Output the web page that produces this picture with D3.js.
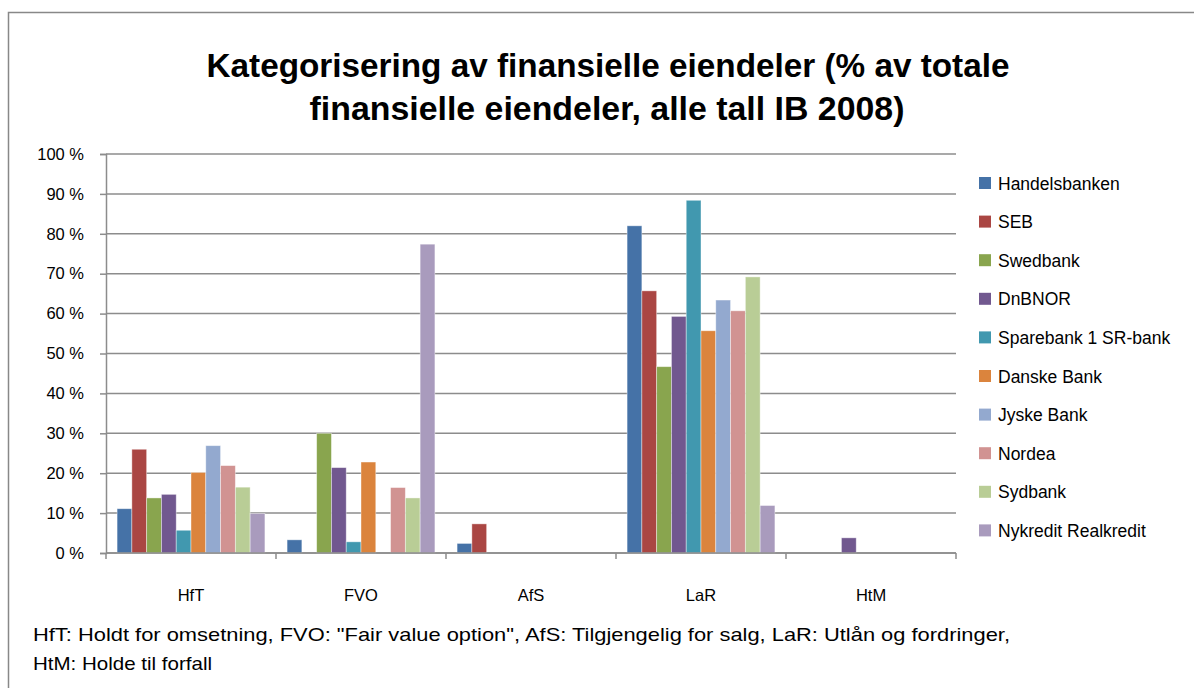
<!DOCTYPE html>
<html>
<head>
<meta charset="utf-8">
<script src="https://cdn.jsdelivr.net/npm/d3@7"></script>
<style>
  body { margin: 0; background: #fff; }
  text { font-family: "Liberation Sans", Arial, sans-serif; fill: #000; }
</style>
</head>
<body>
<div id="chart"></div>
<script>
const categories = ["HfT", "FVO", "AfS", "LaR", "HtM"];
const banks = [
  "Handelsbanken", "SEB", "Swedbank", "DnBNOR", "Sparebank 1 SR-bank",
  "Danske Bank", "Jyske Bank", "Nordea", "Sydbank", "Nykredit Realkredit"
];
// percent values per bank, in order HfT, FVO, AfS, LaR, HtM
const handelsbanken = [11.1, 3.3, 2.4, 82.0, 0];
const seb = [26.0, 0, 7.3, 65.7, 0];
const swedbank = [13.8, 30.0, 0, 46.7, 0];
const dnbnor = [14.7, 21.4, 0, 59.3, 3.8];
const sparebank = [5.7, 2.8, 0, 88.4, 0];
const danske = [20.2, 22.8, 0, 55.7, 0];
const jyske = [26.9, 0, 0, 63.4, 0];
const nordea = [21.9, 16.4, 0, 60.7, 0];
const sydbank = [16.5, 13.8, 0, 69.2, 0];
const nykredit = [9.9, 77.4, 0, 11.9, 0];
const yTicks = [0, 10, 20, 30, 40, 50, 60, 70, 80, 90, 100];

const seriesValues = [handelsbanken, seb, swedbank, dnbnor, sparebank,
  danske, jyske, nordea, sydbank, nykredit];
const colors = ["#4572A7", "#AA4643", "#89A54E", "#71588F", "#4198AF",
  "#DB843D", "#93A9CF", "#D19392", "#B9CD96", "#A99BBD"];

const width = 1194;
const height = 688;
const svg = d3.select("#chart").append("svg")
  .attr("width", width).attr("height", height);

// chart frame
svg.append("rect")
  .attr("x", 8.5).attr("y", 12.5)
  .attr("width", 1200).attr("height", 700)
  .attr("fill", "#fff").attr("stroke", "#888").attr("stroke-width", 1.5);

// title
const title = svg.append("g");
title.append("text")
  .attr("x", 608).attr("y", 77)
  .attr("text-anchor", "middle")
  .attr("font-size", 34).attr("font-weight", "bold")
  .attr("textLength", 803).attr("lengthAdjust", "spacingAndGlyphs")
  .text("Kategorisering av finansielle eiendeler (% av totale");
title.append("text")
  .attr("x", 607).attr("y", 120)
  .attr("text-anchor", "middle")
  .attr("font-size", 34).attr("font-weight", "bold")
  .attr("textLength", 595).attr("lengthAdjust", "spacingAndGlyphs")
  .text("finansielle eiendeler, alle tall IB 2008)");

const plotLeft = 106, plotRight = 956, plotTop = 154, plotBottom = 553;

const x = d3.scaleBand().domain(categories).range([plotLeft, plotRight]);
const xInner = d3.scaleBand().domain(banks)
  .range([0, x.bandwidth()]).paddingInner(0).paddingOuter(0.75);
const y = d3.scaleLinear().domain([0, 100]).range([plotBottom, plotTop]);

// gridlines
svg.append("g").selectAll("line")
  .data(yTicks)
  .enter().append("line")
  .attr("x1", plotLeft).attr("x2", plotRight)
  .attr("y1", d => y(d)).attr("y2", d => y(d))
  .attr("stroke", "#8c8c8c").attr("stroke-width", 1.5);

// y axis
const yAxis = svg.append("g")
  .attr("transform", `translate(${plotLeft},0)`)
  .call(d3.axisLeft(y).tickValues(yTicks).tickSize(6).tickPadding(16)
    .tickFormat(d => d + " %"));
yAxis.select(".domain").attr("stroke", "#8c8c8c").attr("stroke-width", 1.5);
yAxis.selectAll(".tick line").attr("stroke", "#8c8c8c").attr("stroke-width", 1.5);
yAxis.selectAll(".tick text")
  .attr("font-size", 16.5).attr("font-family", "Liberation Sans, Arial, sans-serif")
  .attr("fill", "#000");

// bars
const groups = svg.append("g").selectAll("g")
  .data(banks)
  .enter().append("g")
  .attr("fill", (d, i) => colors[i]);

groups.selectAll("rect")
  .data((bank, i) => categories.map((c, j) => ({ bank, cat: c, value: seriesValues[i][j] })))
  .enter().append("rect")
  .attr("x", d => x(d.cat) + xInner(d.bank))
  .attr("width", xInner.bandwidth())
  .attr("y", d => y(d.value))
  .attr("height", d => y(0) - y(d.value))
  .attr("stroke", "#fff").attr("stroke-opacity", 0.5).attr("stroke-width", 0.8);

// x axis
const xAxis = svg.append("g")
  .attr("transform", `translate(0,${plotBottom})`);
xAxis.append("line")
  .attr("x1", plotLeft).attr("x2", plotRight)
  .attr("stroke", "#8c8c8c").attr("stroke-width", 1.5);
xAxis.selectAll(".xtick")
  .data(categories.concat(["end"]))
  .enter().append("line")
  .attr("x1", (d, i) => i < categories.length ? x(d) : plotRight)
  .attr("x2", (d, i) => i < categories.length ? x(d) : plotRight)
  .attr("y1", 0).attr("y2", 6)
  .attr("stroke", "#8c8c8c").attr("stroke-width", 1.5);
xAxis.selectAll(".xlabel")
  .data(categories)
  .enter().append("text")
  .attr("x", d => x(d) + x.bandwidth() / 2)
  .attr("y", 48)
  .attr("text-anchor", "middle")
  .attr("font-size", 16.5)
  .text(d => d);

// legend
const legend = svg.append("g").attr("transform", "translate(979,183)");
const item = legend.selectAll("g")
  .data(banks)
  .enter().append("g")
  .attr("transform", (d, i) => `translate(0,${i * 38.6})`);
item.append("rect")
  .attr("x", 0).attr("y", -6)
  .attr("width", 12).attr("height", 12)
  .attr("fill", (d, i) => colors[i]);
item.append("text")
  .attr("x", 19).attr("y", 6.5)
  .attr("font-size", 17.5)
  .text(d => d);

// footnote
svg.append("text")
  .attr("x", 33).attr("y", 641)
  .attr("font-size", 18.5)
  .attr("textLength", 977).attr("lengthAdjust", "spacingAndGlyphs")
  .text('HfT: Holdt for omsetning, FVO: "Fair value option", AfS: Tilgjengelig for salg,  LaR: Utlån og fordringer,');
svg.append("text")
  .attr("x", 33).attr("y", 670)
  .attr("font-size", 18.5)
  .attr("textLength", 179).attr("lengthAdjust", "spacingAndGlyphs")
  .text("HtM: Holde til forfall");
</script>
</body>
</html>
